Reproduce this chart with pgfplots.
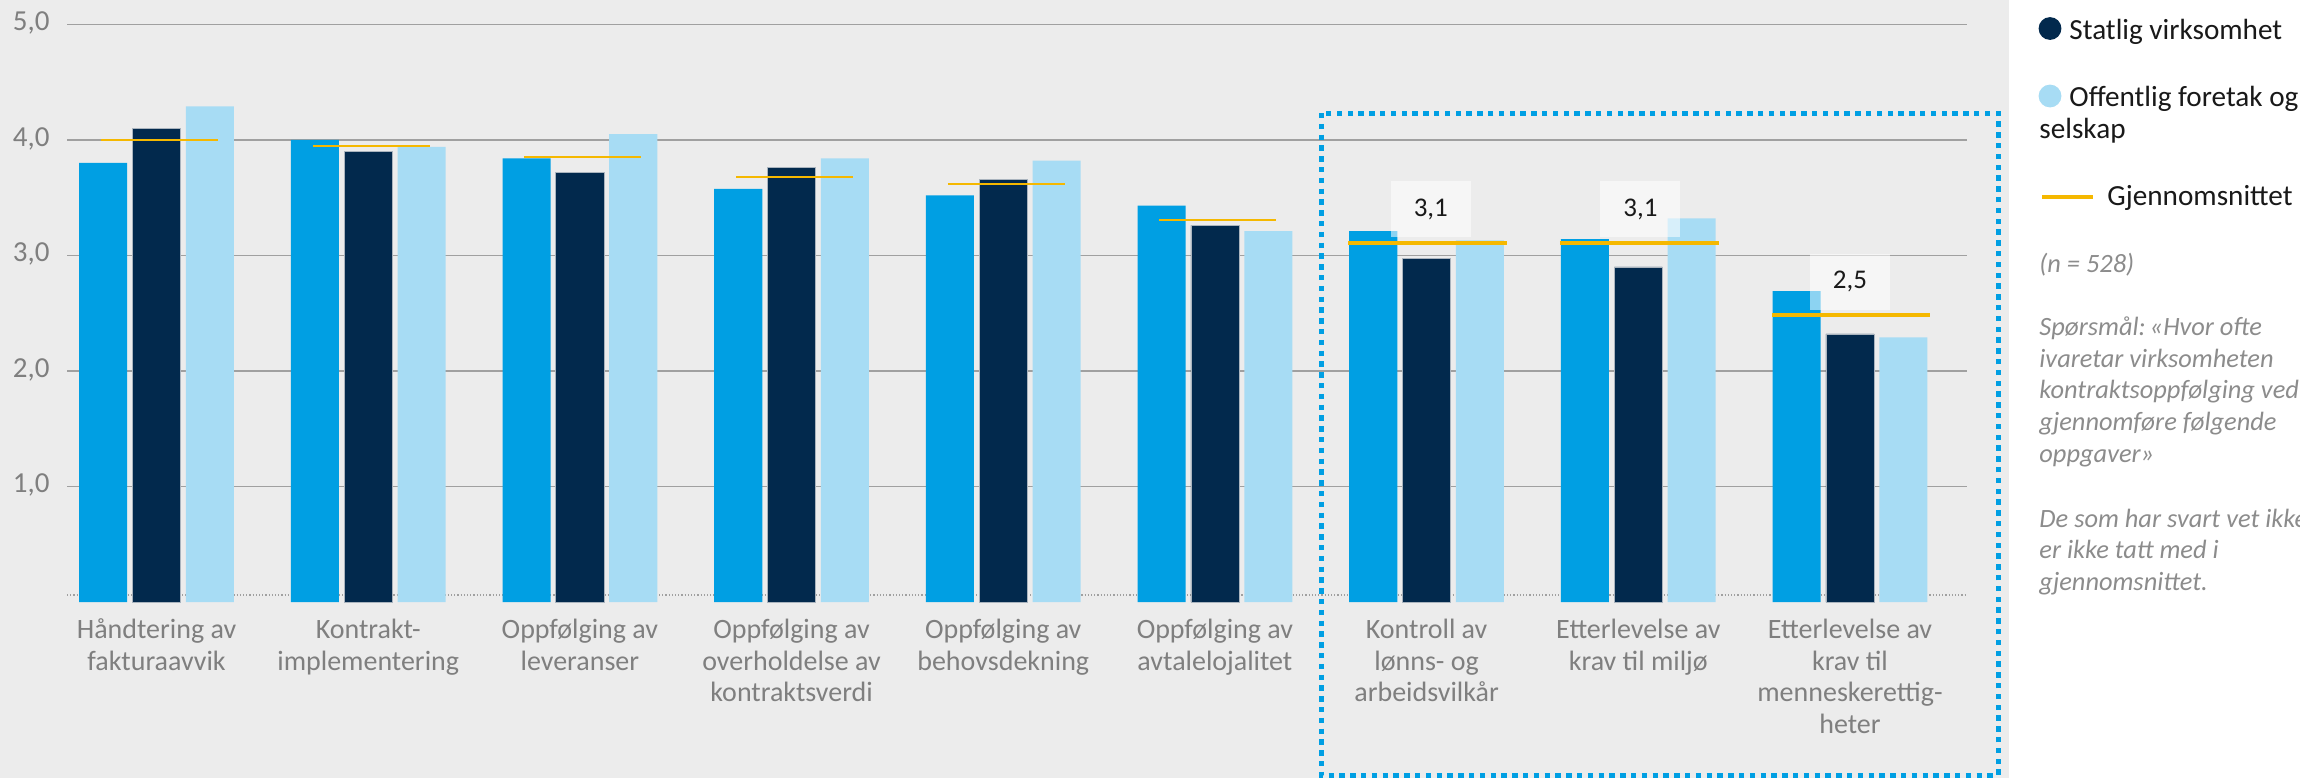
\documentclass[border=0pt]{standalone}
\usepackage{pgfplots}
\usepackage{pgfplotstable}
\pgfplotsset{compat=1.18}
\usepackage{fontspec}
\setmainfont{Carlito}
\newfontfamily\carlito{Carlito}
\frenchspacing
\definecolor{bgg}{HTML}{ECECEC}
\definecolor{cmed}{HTML}{009FE3}
\definecolor{cdark}{HTML}{02294D}
\definecolor{clight}{HTML}{A7DCF4}
\definecolor{cavg}{HTML}{F5B800}
\definecolor{tgray}{HTML}{7F7F7F}
\definecolor{ngray}{HTML}{8C8C8C}
\definecolor{ggrid}{HTML}{A0A0A0}

\pgfplotstableread{
x med dark light
0 3.80 4.10 4.29
1 4.00 3.90 3.94
2 3.84 3.72 4.05
3 3.575 3.76 3.84
4 3.52 3.655 3.82
5 3.43 3.26 3.21
6 3.21 2.97 3.13
7 3.14 2.90 3.32
8 2.69 2.32 2.29
}\data

\begin{document}
\begin{tikzpicture}[x=0.5pt,y=-0.5pt]
\useasboundingbox (0,0) rectangle (2300,778);
\clip (0,0) rectangle (2300,778);
\fill[white] (0,0) rectangle (2300,778);
\fill[bgg] (0,0) rectangle (2009,778);
\coordinate (P) at (67,602);
\begin{axis}[at={(P)}, anchor=south west, scale only axis,
  width=950pt, height=288.85pt,
  xmin=-0.423, xmax=8.553, ymin=0, ymax=5,
  axis line style={draw=none}, major tick length=0pt,
  ytick={1,2,3,4,5}, yticklabels={{1,0},{2,0},{3,0},{4,0},{5,0}},
  ymajorgrids, grid style={ggrid, line width=0.75pt},
  xtick={0,...,8},
  xticklabels={{Håndtering av\\fakturaavvik},{Kontrakt-\\implementering},{Oppfølging av\\leveranser},{Oppfølging av\\overholdelse av\\kontraktsverdi},{Oppfølging av\\behovsdekning},{Oppfølging av\\avtalelojalitet},{Kontroll av\\lønns- og\\arbeidsvilkår},{Etterlevelse av\\krav til miljø},{Etterlevelse av\\krav til\\menneskerettig-\\heter}},
  typeset ticklabels with strut,
  xticklabel style={font=\carlito\fontsize{14}{15.85}\selectfont, text=tgray, align=center, inner sep=0pt, anchor=north, yshift=-6.9pt},
  yticklabel style={font=\carlito\fontsize{14.5}{16}\selectfont, text=tgray, inner sep=0pt, anchor=east, xshift=-8.5pt},
  clip=false,
]
\draw[ggrid, line width=0.6pt, densely dotted] (axis cs:-0.423,0.06) -- (axis cs:8.553,0.06);
\addplot[ybar, bar width=0.227, bar shift=-0.252, fill=cmed, draw=none] table[x=x,y=med]{\data};
\addplot[ybar, bar width=0.227, bar shift=0, fill=cdark, draw={rgb,255:red,170;green,180;blue,190}, line width=0.4pt] table[x=x,y=dark]{\data};
\addplot[ybar, bar width=0.227, bar shift=0.252, fill=clight, draw=none] table[x=x,y=light]{\data};
% averages
\addplot[cavg, line width=1pt] coordinates {(-0.262,4.00) (0.29,4.00)};
\addplot[cavg, line width=1pt] coordinates {(0.738,3.945) (1.29,3.945)};
\addplot[cavg, line width=1pt] coordinates {(1.738,3.85) (2.29,3.85)};
\addplot[cavg, line width=1pt] coordinates {(2.738,3.68) (3.29,3.68)};
\addplot[cavg, line width=1pt] coordinates {(3.738,3.62) (4.29,3.62)};
\addplot[cavg, line width=1pt] coordinates {(4.738,3.31) (5.29,3.31)};
\addplot[cavg, line width=2pt] coordinates {(5.63,3.11) (6.38,3.11)};
\addplot[cavg, line width=2pt] coordinates {(6.63,3.11) (7.38,3.11)};
\addplot[cavg, line width=2pt] coordinates {(7.63,2.48) (8.38,2.48)};
\begin{scope}[every node/.style={fill=white, fill opacity=0.55, text opacity=1, minimum width=40pt, minimum height=28pt, anchor=south, inner sep=0pt, font=\carlito\fontsize{13.5}{16}\selectfont, text=black!90}]
\node at (axis cs:6.02,3.155) {3,1};
\node at (axis cs:7.01,3.155) {3,1};
\node at (axis cs:8.00,2.528) {2,5};
\end{scope}
\end{axis}
\draw[cmed, line width=2.5pt, dash pattern=on 2.7pt off 2.7pt] (1321,113) rectangle (1998,775);
% legend / notes
\fill[cdark] (2050,28.5) circle (5.7pt);
\fill[clight] (2050,96) circle (5.7pt);
\draw[cavg, line width=2pt] (2042,197) -- (2093,197);
\begin{scope}[every node/.style={anchor=base west, inner sep=0pt, font=\fontsize{14.6}{16}\selectfont, text=black!90}]
\node at (2069,39) {Statlig virksomhet};
\node at (2069,106) {Offentlig foretak og};
\node at (2039,138) {selskap};
\node at (2107,205) {Gjennomsnittet};
\end{scope}
\begin{scope}[every node/.style={anchor=base west, inner sep=0pt, font=\itshape\fontsize{13.2}{15}\selectfont, text=ngray}]
\node at (2039,272) {(n = 528)};
\node at (2039,335) {Spørsmål:\hspace{0.15em}«Hvor ofte};
\node at (2039,367) {ivaretar virksomheten};
\node at (2039,398) {kontraktsoppfølging ved};
\node at (2039,430) {gjennomføre følgende};
\node at (2039,462) {oppgaver»};
\node at (2039,527) {De som har svart vet ikke};
\node at (2039,558) {er ikke tatt med i};
\node at (2039,590) {gjennomsnittet.};
\end{scope}
\end{tikzpicture}
\end{document}
